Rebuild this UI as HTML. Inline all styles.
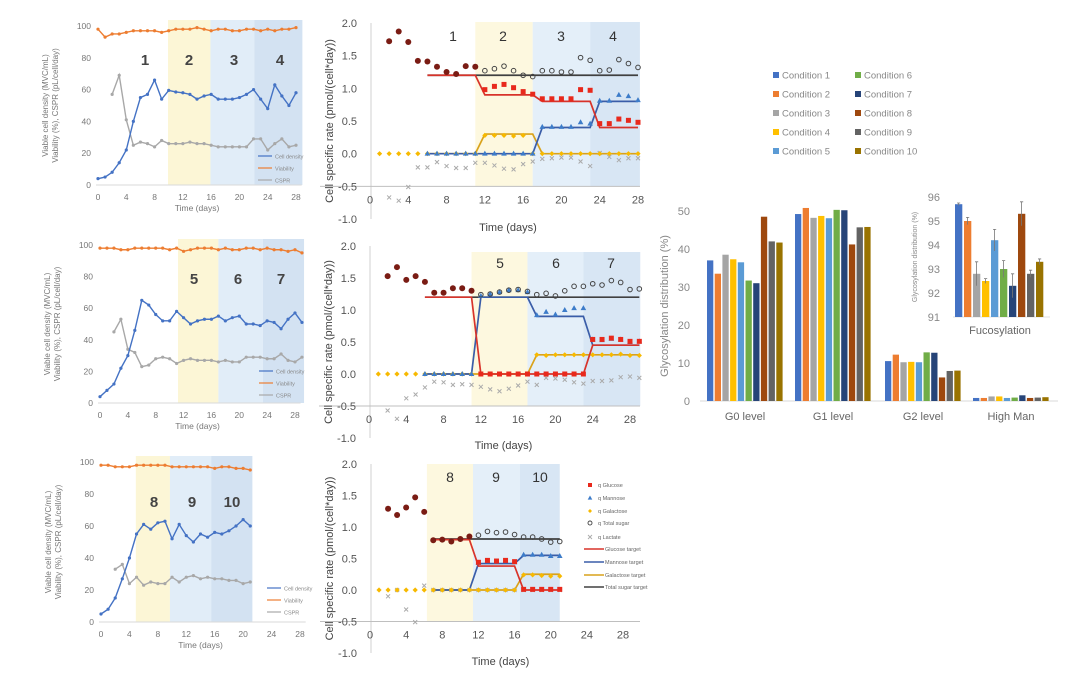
<!DOCTYPE html>
<html><head><meta charset="utf-8"><style>
body{margin:0;background:#fff;}
svg{display:block;font-family:"Liberation Sans",sans-serif;}
</style></head><body>
<svg id="fig" width="1080" height="683" viewBox="0 0 1080 683" xmlns="http://www.w3.org/2000/svg"></svg>
<script>
// ---------- Panel A data (cell culture profiles) ----------
const a1Density=[4,5,8,14,22,40,55,57,66,54,59.5,58.5,58,57,54,56,57,54,54,54,55,57,60,54,48,63,56,50,58];
const a1Viability=[98,93,95,95,96,97,97,97,97,96,97,98,98,98,99,98,97,98,98,97,97,98,98,97,98,97,98,98,99];
const a1CSPR=[null,null,57,69,41,25,27,26,24,28,26,26,26,27,26,26,25,24,24,24,24,24,29,29,22,26,29,24,25];
const a2Density=[4,8,12,22,30,46,65,62,56,52,52,58,54,50,52,53,53,55,52,54,55,50,50,49,52,51,47,53,57,51];
const a2Viability=[98,98,98,97,97,98,98,98,98,98,97,98,96,97,98,98,98,97,98,97,97,98,98,97,98,97,97,96,97,95];
const a2CSPR=[null,null,45,53,34,32,23,24,28,29,28,25,27,28,27,27,27,26,27,26,26,29,29,29,28,28,31,27,26,29];
const a3Density=[5,8,15,27,40,55,61,58,62,63,52,61,54,50,55,53,56,55,57,60,64,60];
const a3Viability=[98,98,97,97,97,98,98,98,98,98,97,97,97,97,97,97,96,97,97,96,96,95];
const a3CSPR=[null,null,33,36,24,28,23,25,24,24,28,25,28,29,27,28,27,27,26,26,24,25];
// ---------- Panel B data (cell specific rates) ----------
const b1EarlyDays=[2,3,4,5,6,7,8,9,10,11];
const b1Early=[1.72,1.87,1.71,1.42,1.41,1.33,1.25,1.22,1.34,1.33];
const b1SugarDays=[12,13,14,15,16,17,18,19,20,21,22,23,24,25,26,27,28];
const b1Total=[1.27,1.3,1.34,1.27,1.2,1.18,1.27,1.27,1.25,1.25,1.47,1.43,1.27,1.28,1.44,1.38,1.32];
const b1Glucose=[0.98,1.03,1.06,1.01,0.95,0.91,0.84,0.84,0.84,0.84,0.98,0.97,0.46,0.46,0.53,0.51,0.48];
const b1MannoseDays=[6,7,8,9,10,11,12,13,14,15,16,17,18,19,20,21,22,23,24,25,26,27,28];
const b1Mannose=[0,0,0,0,0,0,0,0,0,0,0,0,0.41,0.41,0.41,0.41,0.48,0.46,0.81,0.81,0.9,0.88,0.82];
const b1GalDays=[1,2,3,4,5,6,7,8,9,10,11,12,13,14,15,16,17,18,19,20,21,22,23,24,25,26,27,28];
const b1Gal=[0,0,0,0,0,0,0,0,0,0,0,0.28,0.28,0.28,0.27,0.28,0,0,0,0,0,0,0,0,0,0,0,0];
const b1LacDays=[2,3,4,5,6,7,8,9,10,11,12,13,14,15,16,17,18,19,20,21,22,23,24,25,26,27,28];
const b1Lac=[-0.67,-0.72,-0.51,-0.21,-0.21,-0.13,-0.19,-0.22,-0.22,-0.14,-0.14,-0.18,-0.23,-0.24,-0.16,-0.12,-0.08,-0.07,-0.06,-0.06,-0.12,-0.19,0.01,-0.05,-0.1,-0.07,-0.07];
const b1GlcTgtDays=[6,11,12,17,18,23,24,28], b1GlcTgt=[1.2,1.2,0.9,0.9,0.8,0.8,0.4,0.4];
const b1ManTgtDays=[6,17,18,23,24,28], b1ManTgt=[0,0,0.4,0.4,0.8,0.8];
const b1GalTgtDays=[6,11,12,17,18,28], b1GalTgt=[0,0,0.3,0.3,0,0];
const b1TotTgtDays=[6,28], b1TotTgt=[1.2,1.2];

const b2EarlyDays=[2,3,4,5,6,7,8,9,10,11];
const b2Early=[1.53,1.67,1.47,1.53,1.44,1.27,1.27,1.34,1.34,1.30];
const b2TotDays=[12,13,14,15,16,17,18,19,20,21,22,23,24,25,26,27,28,29];
const b2Total=[1.24,1.25,1.28,1.31,1.32,1.29,1.24,1.26,1.22,1.3,1.37,1.37,1.41,1.39,1.46,1.43,1.32,1.33];
const b2ManDays=[6,7,8,9,10,11,12,13,14,15,16,17,18,19,20,21,22,23,24,25,26,27,28,29];
const b2Mannose=[0,0,0,0,0,0,1.22,1.25,1.28,1.31,1.31,1.28,0.92,0.97,0.93,1.0,1.03,1.03,0.54,0.53,0.55,0.54,0.5,0.51];
const b2GlcDays=[12,13,14,15,16,17,18,19,20,21,22,23,24,25,26,27,28,29];
const b2Glucose=[0,0,0,0,0,0,0,0,0,0,0,0,0.54,0.54,0.56,0.54,0.51,0.51];
const b2GalDays=[1,2,3,4,5,6,7,8,9,10,11,12,13,14,15,16,17,18,19,20,21,22,23,24,25,26,27,28,29];
const b2Gal=[0,0,0,0,0,0,0,0,0,0,0,0,0,0,0,0,0,0.3,0.29,0.3,0.3,0.3,0.3,0.3,0.3,0.3,0.31,0.29,0.29];
const b2LacDays=[2,3,4,5,6,7,8,9,10,11,12,13,14,15,16,17,18,19,20,21,22,23,24,25,26,27,28,29];
const b2Lac=[-0.57,-0.7,-0.38,-0.32,-0.21,-0.12,-0.13,-0.17,-0.16,-0.17,-0.2,-0.24,-0.27,-0.23,-0.18,-0.12,-0.17,-0.06,-0.07,-0.09,-0.13,-0.15,-0.11,-0.11,-0.1,-0.05,-0.04,-0.06];
const b2GlcTgtDays=[6,11,12,23,24,29], b2GlcTgt=[1.2,1.2,0,0,0.45,0.45];
const b2ManTgtDays=[6,11,12,17,18,23,24,29], b2ManTgt=[0,0,1.2,1.2,0.9,0.9,0.45,0.45];
const b2GalTgtDays=[6,17,18,29], b2GalTgt=[0,0,0.3,0.3];
const b2TotTgtDays=[6,29], b2TotTgt=[1.2,1.2];

const b3EarlyDays=[2,3,4,5,6,7,8,9,10,11];
const b3Early=[1.29,1.19,1.31,1.47,1.24,0.79,0.8,0.77,0.81,0.85];
const b3SugarDays=[12,13,14,15,16,17,18,19,20,21];
const b3Total=[0.87,0.93,0.91,0.92,0.88,0.84,0.84,0.81,0.76,0.77];
const b3Mannose=[0.43,0.46,0.45,0.46,0.44,0.56,0.56,0.56,0.54,0.54];
const b3Glucose=[0.44,0.47,0.46,0.47,0.45,0.01,0.01,0.01,0.01,0.01];
const b3GalDays=[1,2,3,4,5,6,7,8,9,10,11,12,13,14,15,16,17,18,19,20,21];
const b3Gal=[0,0,0,0,0,0,0,0,0,0,0,0,0,0,0,0,0.24,0.24,0.23,0.22,0.22];
const b3LacDays=[2,3,4,5,6,7,8,9,10,11,12,13,14,15,16,17,18,19,20,21];
const b3Lac=[-0.1,0,-0.31,-0.51,0.07,0,0,0,0,0,0,0,0,0,0,0,0,0,0,0];
const b3GlcTgtDays=[7,11,12,16,17,21], b3GlcTgt=[0.8,0.8,0.38,0.38,0,0];
const b3ManTgtDays=[7,11,12,16,17,21], b3ManTgt=[0,0,0.42,0.42,0.55,0.55];
const b3GalTgtDays=[7,16,17,21], b3GalTgt=[0,0,0.25,0.25];
const b3TotTgtDays=[7,21], b3TotTgt=[0.81,0.81];
// ---------- Glycosylation data ----------
const conditions=["Condition 1","Condition 2","Condition 3","Condition 4","Condition 5","Condition 6","Condition 7","Condition 8","Condition 9","Condition 10"];
const glyGroups=["G0 level","G1 level","G2 level","High Man"];
const g0Values=[37,33.5,38.5,37.3,36.5,31.7,31,48.5,42,41.7];
const g1Values=[49.2,50.8,48.2,48.7,48.1,50.3,50.2,41.2,45.7,45.8];
const g2Values=[10.5,12.2,10.2,10.3,10.2,12.8,12.7,6.2,7.9,8];
const hmValues=[0.8,0.8,1.2,1.2,0.8,0.9,1.5,0.8,0.9,1.0];
const fucValues=[95.7,95.0,92.8,92.5,94.2,93.0,92.3,95.3,92.8,93.3];
const fucErr=[0.05,0.15,0.5,0.1,0.45,0.35,0.5,0.5,0.15,0.12];
const glyTicks=[0,10,20,30,40,50];
const fucTicks=[91,92,93,94,95,96];

const NS="http://www.w3.org/2000/svg";
const svg=document.getElementById('fig');
const COLORS=["#4472c4","#ed7d31","#a5a5a5","#ffc000","#5b9bd5","#70ad47","#264478","#9e480e","#636363","#997300"];
function mk(tag,attrs,parent){const e=document.createElementNS(NS,tag);for(const k in attrs)e.setAttribute(k,attrs[k]);(parent||svg).appendChild(e);return e;}
function txt(x,y,s,attrs,parent){const e=mk('text',Object.assign({x:x,y:y},attrs||{}),parent);e.textContent=s;return e;}

// ---------------- Panel A ----------------
function drawA(id,c){
  const g=mk('g',{});
  
  
  const sx=d=>c.x0+(c.x28-c.x0)*d/28, sy=v=>c.y0+(c.y100-c.y0)*v/100;
  const bandCols=["#fcf6d6","#e1edf8","#d3e2f2"];
  for(let i=0;i<3;i++){
    const r=mk('rect',{x:sx(c.bands[i]),y:sy(100)-6,width:sx(c.bands[i+1])-sx(c.bands[i]),height:sy(0)-sy(100)+6,fill:bandCols[i]},g);
    
    
  }
  mk('line',{x1:c.x0-2,x2:sx(28.8),y1:sy(0),y2:sy(0),stroke:'#d9d9d9','stroke-width':1},g);
  for(let v=0;v<=100;v+=20){const t=txt(c.x0-7,sy(v)+3,String(v),{'font-size':8.5,fill:'#777','text-anchor':'end'},g);
    
    }
  for(let d=0;d<=28;d+=4){const t=txt(sx(d),sy(0)+15,String(d),{'font-size':8.5,fill:'#777','text-anchor':'middle'},g);
    
    }
  const xt=txt((c.x0+c.x28)/2,sy(0)+26,'Time (days)',{'font-size':8.5,fill:'#777','text-anchor':'middle'},g);
  
  
  const ym=(sy(0)+sy(100))/2;
  const y1=txt(0,0,'Viable cell density (MVC/mL)',{'font-size':8,fill:'#777','text-anchor':'middle',transform:`translate(${c.x0-50},${ym}) rotate(-90)`},g);
  
  
  const y2=txt(0,0,'Viability (%), CSPR (pL/cell/day)',{'font-size':8,fill:'#777','text-anchor':'middle',transform:`translate(${c.x0-40},${ym}) rotate(-90)`},g);
  
  
  c.labels.forEach((s,i)=>{const t=txt(c.labelX[i],c.labelY,s,{'font-size':15,'font-weight':'bold',fill:'#444','text-anchor':'middle'},g);
    
    });
  function series(arr,col,name){
    let d='';arr.forEach((v,i)=>{if(v==null)return;d+=(d?'L':'M')+sx(i)+','+sy(v);});
    const p=mk('path',{d:d,fill:'none',stroke:col,'stroke-width':1.4},g);
    
    
    arr.forEach((v,i)=>{if(v==null)return;const m=mk('circle',{cx:sx(i),cy:sy(v),r:1.6,fill:col},g);
      
      });
  }
  series(c.cspr,'#a8a8a8','cspr');
  series(c.density,'#4472c4','cell-density');
  series(c.viab,'#ed7d31','viability');
  const lg=[['Cell density','#4472c4'],['Viability','#ed7d31'],['CSPR','#a8a8a8']];
  lg.forEach((l,i)=>{const yy=c.legY+i*12;
    const ln=mk('line',{x1:c.legX,x2:c.legX+14,y1:yy,y2:yy,stroke:l[1],'stroke-width':1.2},g);
    
    
    const t=txt(c.legX+17,yy+2.5,l[0],{'font-size':5.5,fill:'#888'},g);
    
    });
}
drawA('panel-a1',{x0:98,x28:296,y0:185,y100:26,bands:[9.9,15.9,22.1,28.9],density:a1Density,viab:a1Viability,cspr:a1CSPR,labels:['1','2','3','4'],labelX:[145,189,234,280],labelY:65,legX:258,legY:156});
drawA('panel-a2',{x0:100,x28:295,y0:403,y100:245,bands:[11.2,17,23.4,29.3],density:a2Density,viab:a2Viability,cspr:a2CSPR,labels:['5','6','7'],labelX:[194,238,281],labelY:284,legX:259,legY:371});
drawA('panel-a3',{x0:101,x28:300,y0:622,y100:462,bands:[4.9,9.7,15.5,21.3],density:a3Density,viab:a3Viability,cspr:a3CSPR,labels:['8','9','10'],labelX:[154,192,232],labelY:507,legX:267,legY:588});

// ---------------- Panel B ----------------
function drawB(id,c){
  const g=mk('g',{});
  
  
  const sx=d=>c.x0+(c.x28-c.x0)*d/28, sy=v=>c.y2-(c.y2-c.yn1)*(2-v)/3;
  const bandCols=["#fdf8df","#e4eff9","#d8e6f4"];
  for(let i=0;i<3;i++){
    const r=mk('rect',{x:sx(c.bands[i]),y:c.bandTop,width:sx(c.bands[i+1])-sx(c.bands[i]),height:sy(-0.5)-c.bandTop,fill:bandCols[i]},g);
    
    
  }
  mk('line',{x1:c.x0+1,x2:c.x0+1,y1:sy(2),y2:sy(-1),stroke:'#d0d0d0','stroke-width':1},g);
  mk('line',{x1:c.x0-50,x2:c.axisEnd,y1:sy(-0.5),y2:sy(-0.5),stroke:'#bfbfbf','stroke-width':1},g);
  [2,1.5,1,0.5,0,-0.5,-1].forEach(v=>{const t=txt(c.x0-13,sy(v)+4,v.toFixed(1),{'font-size':11,fill:'#555','text-anchor':'end'},g);
    
    });
  for(let d=0;d<=28;d+=4){const t=txt(sx(d),sy(-0.5)+17,String(d),{'font-size':11,fill:'#555','text-anchor':'middle'},g);
    
    }
  const xt=txt((c.x0+c.x28)/2+4,c.titleY,'Time (days)',{'font-size':11,fill:'#444','text-anchor':'middle'},g);
  
  
  const yt=txt(0,0,'Cell specific rate (pmol/(cell*day))',{'font-size':11,fill:'#444','text-anchor':'middle',transform:`translate(${c.x0-37},${(sy(2)+sy(-1))/2}) rotate(-90)`},g);
  
  
  c.labels.forEach((s,i)=>{const t=txt(c.labelX[i],c.labelY,s,{'font-size':14,fill:'#333','text-anchor':'middle'},g);
    
    });
  function line(days,vals,col,name){
    let d='';days.forEach((dd,i)=>{d+=(i?'L':'M')+sx(dd)+','+sy(vals[i]);});
    const p=mk('path',{d:d,fill:'none',stroke:col,'stroke-width':1.7},g);
    
    
  }
  function pts(days,vals,kind,name){
    days.forEach((dd,i)=>{const x=sx(dd),y=sy(vals[i]);let m;
      if(kind==='sq')m=mk('rect',{x:x-2.5,y:y-2.5,width:5,height:5,fill:'#e8291c'},g);
      else if(kind==='tri')m=mk('path',{d:`M${x},${y-3}L${x+2.8},${y+2}L${x-2.8},${y+2}Z`,fill:'#3d7cc9'},g);
      else if(kind==='dia')m=mk('path',{d:`M${x},${y-2.6}L${x+2.6},${y}L${x},${y+2.6}L${x-2.6},${y}Z`,fill:'#f7b900'},g);
      else if(kind==='oc')m=mk('circle',{cx:x,cy:y,r:2.3,fill:'none',stroke:'#444','stroke-width':1},g);
      else if(kind==='dc')m=mk('circle',{cx:x,cy:y,r:3,fill:'#7a1c14'},g);
      else m=mk('path',{d:`M${x-2},${y-2}L${x+2},${y+2}M${x+2},${y-2}L${x-2},${y+2}`,stroke:'#aaa','stroke-width':1},g);
      
      });
  }
  line(c.totT[0],c.totT[1],'#404040','total-sugar-target');
  line(c.galT[0],c.galT[1],'#d9a21b','galactose-target');
  line(c.manT[0],c.manT[1],'#3a5da8','mannose-target');
  line(c.glcT[0],c.glcT[1],'#d8332a','glucose-target');
  pts(c.lac[0],c.lac[1],'x','q-lactate-point');
  pts(c.gal[0],c.gal[1],'dia','q-galactose-point');
  pts(c.man[0],c.man[1],'tri','q-mannose-point');
  pts(c.glc[0],c.glc[1],'sq','q-glucose-point');
  pts(c.tot[0],c.tot[1],'oc','q-total-sugar-point');
  pts(c.early[0],c.early[1],'dc','q-glucose-total-point');
}
drawB('panel-b1',{x0:370,x28:638,y2:23,yn1:219,axisEnd:640,bandTop:22,bands:[11,17,23,28.2],titleY:231,labels:['1','2','3','4'],labelX:[453,503,561,613],labelY:41,
  early:[b1EarlyDays,b1Early],tot:[b1SugarDays,b1Total],glc:[b1SugarDays,b1Glucose],man:[b1MannoseDays,b1Mannose],gal:[b1GalDays,b1Gal],lac:[b1LacDays,b1Lac],
  glcT:[b1GlcTgtDays,b1GlcTgt],manT:[b1ManTgtDays,b1ManTgt],galT:[b1GalTgtDays,b1GalTgt],totT:[b1TotTgtDays,b1TotTgt]});
drawB('panel-b2',{x0:369,x28:630,y2:246,yn1:438,axisEnd:640,bandTop:252,bands:[11,17,23,29.1],titleY:449,labels:['5','6','7'],labelX:[500,556,611],labelY:268,
  early:[b2EarlyDays,b2Early],tot:[b2TotDays,b2Total],glc:[b2GlcDays,b2Glucose],man:[b2ManDays,b2Mannose],gal:[b2GalDays,b2Gal],lac:[b2LacDays,b2Lac],
  glcT:[b2GlcTgtDays,b2GlcTgt],manT:[b2ManTgtDays,b2ManTgt],galT:[b2GalTgtDays,b2GalTgt],totT:[b2TotTgtDays,b2TotTgt]});
drawB('panel-b3',{x0:370,x28:623,y2:464,yn1:653,axisEnd:640,bandTop:464,bands:[6.3,11.4,16.6,21],titleY:665,labels:['8','9','10'],labelX:[450,496,540],labelY:482,
  early:[b3EarlyDays,b3Early],tot:[b3SugarDays,b3Total],glc:[b3SugarDays,b3Glucose],man:[b3SugarDays,b3Mannose],gal:[b3GalDays,b3Gal],lac:[b3LacDays,b3Lac],
  glcT:[b3GlcTgtDays,b3GlcTgt],manT:[b3ManTgtDays,b3ManTgt],galT:[b3GalTgtDays,b3GalTgt],totT:[b3TotTgtDays,b3TotTgt]});

// B3 legend
(function(){
  const items=[['q Glucose','sq'],['q Mannose','tri'],['q Galactose','dia'],['q Total sugar','oc'],['q Lactate','x'],['Glucose target','#d8332a'],['Mannose target','#3a5da8'],['Galactose target','#d9a21b'],['Total sugar target','#404040']];
  const ys=[485,498,511,523,537,549,562,575,587];
  items.forEach((it,i)=>{const x=590,y=ys[i];let m;
    if(it[1]==='sq')m=mk('rect',{x:x-2,y:y-2,width:4,height:4,fill:'#e8291c'});
    else if(it[1]==='tri')m=mk('path',{d:`M${x},${y-2.5}L${x+2.3},${y+1.6}L${x-2.3},${y+1.6}Z`,fill:'#3d7cc9'});
    else if(it[1]==='dia')m=mk('path',{d:`M${x},${y-2}L${x+2},${y}L${x},${y+2}L${x-2},${y}Z`,fill:'#f7b900'});
    else if(it[1]==='oc')m=mk('circle',{cx:x,cy:y,r:2,fill:'none',stroke:'#444','stroke-width':0.9});
    else if(it[1]==='x')m=mk('path',{d:`M${x-2},${y-2}L${x+2},${y+2}M${x+2},${y-2}L${x-2},${y+2}`,stroke:'#aaa','stroke-width':0.9});
    else m=mk('line',{x1:584,x2:604,y1:y,y2:y,stroke:it[1],'stroke-width':1.6});
    
    
    const t=txt(i<5?598:605,y+2,it[0],{'font-size':5.5,fill:'#666'});
    
    });
})();

// ---------------- Glycosylation chart ----------------
(function(){
  const g=mk('g',{});
  
  
  // legend
  conditions.forEach((cn,i)=>{const col=i<5?0:1,row=i%5;const x=col?858:776,y=75+row*19;
    const sw=mk('rect',{x:x-3,y:y-3,width:6,height:6,fill:COLORS[i]},g);
    
    
    const t=txt(x+6,y+3.5,cn,{'font-size':9.5,fill:'#888'},g);
    
    });
  const y0=401,per=3.8;const sy=v=>y0-v*per;
  glyTicks.forEach(v=>{const t=txt(690,sy(v)+4,String(v),{'font-size':11,fill:'#888','text-anchor':'end'},g);
    
    });
  mk('line',{x1:700,x2:1058,y1:y0,y2:y0,stroke:'#d9d9d9'},g);
  const yt=txt(0,0,'Glycosylation distribution (%)',{'font-size':11,fill:'#888','text-anchor':'middle',transform:`translate(668,${sy(25)}) rotate(-90)`},g);
  
  
  const groups=[g0Values,g1Values,g2Values,hmValues];const gx=[707,795,885,973];
  groups.forEach((vals,gi)=>{
    vals.forEach((v,i)=>{const r=mk('rect',{x:gx[gi]+i*7.7,y:sy(v),width:6.3,height:v*per,fill:COLORS[i]},g);
      
      });
    const t=txt(gx[gi]+38,420,glyGroups[gi],{'font-size':11,fill:'#666','text-anchor':'middle'},g);
    
    
  });
  // inset fucosylation
  const fy=v=>317-(v-91)*24;
  fucTicks.forEach(v=>{const t=txt(940,fy(v)+4,String(v),{'font-size':11,fill:'#888','text-anchor':'end'},g);
    
    });
  mk('line',{x1:953,x2:1050,y1:317,y2:317,stroke:'#e0e0e0'},g);
  const it=txt(0,0,'Glycosylation distribution (%)',{'font-size':7,fill:'#888','text-anchor':'middle',transform:`translate(917,257) rotate(-90)`},g);
  
  
  fucValues.forEach((v,i)=>{const x=955+i*9;
    const r=mk('rect',{x:x,y:fy(v),width:7.3,height:317-fy(v),fill:COLORS[i]},g);
    
    
    const e=mk('path',{d:`M${x+3.6},${fy(v+fucErr[i])}V${fy(v-fucErr[i])}M${x+2},${fy(v+fucErr[i])}H${x+5.2}`,stroke:'#777','stroke-width':0.8},g);
    
    });
  const ft=txt(1000,334,'Fucosylation',{'font-size':11,fill:'#666','text-anchor':'middle'},g);
  
  
})();
</script>
</body></html>
